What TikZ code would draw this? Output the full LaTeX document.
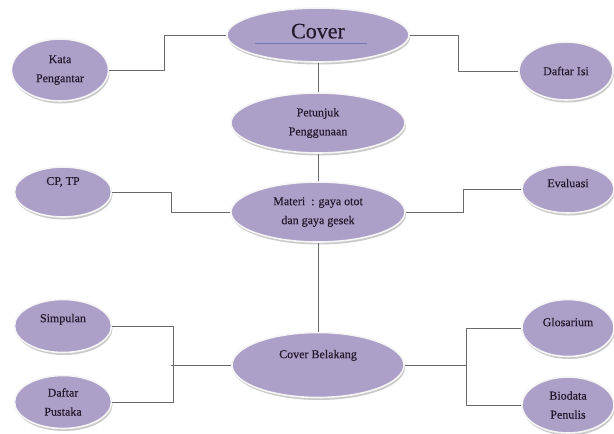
\documentclass[tikz,border=0pt]{standalone}
\usepackage{fontspec}
\setmainfont{Liberation Serif}[FakeBold=0.4]
\usetikzlibrary{shapes.geometric,shadows,calc}

\definecolor{lilac}{RGB}{173,160,200}
\definecolor{inkdark}{RGB}{35,25,45}
\definecolor{linegray}{RGB}{105,105,105}
\definecolor{rulerblue}{RGB}{110,120,180}

\begin{document}
\begin{tikzpicture}[
    x=1pt, y=-1pt,
    bubble/.style={ellipse, draw=white!92!gray, line width=1.6pt, fill=lilac, align=center,
        text=inkdark, inner sep=0pt, font=\fontsize{12}{19}\selectfont,
        drop shadow={shadow xshift=1pt, shadow yshift=-2.5pt, fill=gray!70, opacity=0.6}},
    bigbubble/.style={bubble, font=\fontsize{22}{24}\selectfont},
    link/.style={draw=linegray, line width=0.8pt}
]
\useasboundingbox (0,0) rectangle (614,434);

% Main column
\node[bigbubble, minimum width=182pt, minimum height=54pt, text depth=8pt] (cover) at (318,35) {Cover};
\node[bubble, minimum width=174pt, minimum height=60pt] (petunjuk) at (318,123) {Petunjuk\\Penggunaan};
\node[bubble, minimum width=174pt, minimum height=60pt] (materi) at (318,212) {Materi~~: gaya otot\\dan gaya gesek};
\node[bubble, minimum width=172pt, minimum height=65pt, text depth=22pt] (belakang) at (318,365) {Cover Belakang};

% Left side
\node[bubble, minimum width=97pt, minimum height=62pt] (kata) at (60,70) {Kata\\Pengantar};
\node[bubble, minimum width=97pt, minimum height=50pt, text depth=22pt] (cptp) at (63,192) {CP, TP};
\node[bubble, minimum width=97pt, minimum height=53pt, text depth=16pt] (simpulan) at (63,326) {Simpulan};
\node[bubble, minimum width=97pt, minimum height=53pt] (pustaka) at (63,402) {Daftar\\Pustaka};

% Right side
\node[bubble, minimum width=94pt, minimum height=58pt] (dafisi) at (566,71) {Daftar Isi};
\node[bubble, minimum width=92pt, minimum height=48pt, text depth=12pt] (evaluasi) at (568,189) {Evaluasi};
\node[bubble, minimum width=92pt, minimum height=57pt, text depth=12pt] (glosarium) at (568,328) {Glosarium};
\node[bubble, minimum width=92pt, minimum height=56pt] (biodata) at (568,405) {Biodata\\Penulis};

% Underline of the title
\draw[rulerblue, line width=0.6pt] ($(cover.center)+(-63,8)$) -- ++(112,0);

% Connectors along the middle
\draw[link] (cover.south) -- (petunjuk.north);
\draw[link] (petunjuk.south) -- (materi.north);
\draw[link] (materi.south) -- (belakang.north);

% Elbow connectors
\draw[link] (cover.west) -- ++(-62,0) |- (kata.east);
\draw[link] (cover.east) -- ++(49,0) |- (dafisi.west);
\draw[link] (cptp.east) -- ++(59,0) |- (materi.west);
\draw[link] (materi.east) -- ++(58,0) |- (evaluasi.west);

% Brackets at the bottom
\draw[link] (simpulan.east) -- ++(61,0) |- (pustaka.east);
\draw[link] (belakang.west) -- ++(-60,0);
\draw[link] (glosarium.west) -- ++(-55,0) |- (biodata.west);
\draw[link] (belakang.east) -- ++(62,0);

\end{tikzpicture}
\end{document}
